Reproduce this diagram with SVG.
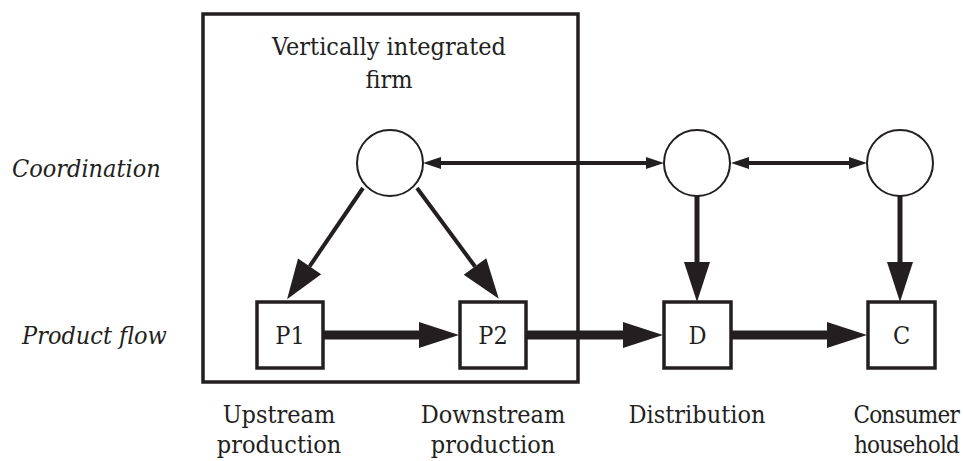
<svg xmlns="http://www.w3.org/2000/svg" width="963" height="461" viewBox="0 0 963 461">
  <style>
    .t { font-family: "DejaVu Serif", serif; font-stretch: condensed; font-size: 25px; fill: #231f20; }
    .side { font-style: italic; }
    .mid { text-anchor: middle; }
    .edge { text-anchor: end; font-size: 24px; letter-spacing: -0.8px; }
    .circ { fill: #fff; stroke: #231f20; stroke-width: 2; }
    .box { fill: #fff; stroke: #231f20; stroke-width: 3.5; }
    .firm { fill: none; stroke: #231f20; stroke-width: 3.5; }
    .flow { stroke: #231f20; stroke-width: 9; fill: none; }
    .ctrl { stroke: #231f20; stroke-width: 5; fill: none; }
    .link { stroke: #231f20; stroke-width: 4; fill: none; }
  </style>
  <defs>
    <marker id="headBig" markerUnits="userSpaceOnUse" markerWidth="42" markerHeight="28" refX="0" refY="13" orient="auto" overflow="visible">
      <path d="M0,0 L40,13 L0,26 Z" fill="#231f20"/>
    </marker>
    <marker id="headMid" markerUnits="userSpaceOnUse" markerWidth="42" markerHeight="30" refX="0" refY="14" orient="auto" overflow="visible">
      <path d="M0,0 L40,14 L0,28 Z" fill="#231f20"/>
    </marker>
    <marker id="headSmall" markerUnits="userSpaceOnUse" markerWidth="20" markerHeight="14" refX="0" refY="6" orient="auto" overflow="visible">
      <path d="M0,0 L18,6 L0,12 Z" fill="#231f20"/>
    </marker>
    <marker id="headSmallStart" markerUnits="userSpaceOnUse" markerWidth="20" markerHeight="14" refX="0" refY="6" orient="auto-start-reverse" overflow="visible">
      <path d="M0,0 L18,6 L0,12 Z" fill="#231f20"/>
    </marker>
  </defs>

  <!-- row labels -->
  <text class="t side" x="12" y="177">Coordination</text>
  <text class="t side" x="22" y="344">Product flow</text>

  <!-- firm boundary -->
  <g id="firm">
    <rect class="firm" x="203" y="14" width="375" height="368"/>
    <text class="t mid" x="389" y="55">Vertically integrated</text>
    <text class="t mid" x="389" y="88">firm</text>
  </g>

  <!-- connectors -->
  <g id="connectors">
    <line class="link" x1="441" y1="163" x2="646" y2="163" marker-start="url(#headSmallStart)" marker-end="url(#headSmall)"/>
    <line class="link" x1="749" y1="163" x2="849" y2="163" marker-start="url(#headSmallStart)" marker-end="url(#headSmall)"/>
    <line class="link" x1="363" y1="188" x2="309.6" y2="266.3" marker-end="url(#headMid)"/>
    <line class="link" x1="417" y1="188" x2="475" y2="266.5" marker-end="url(#headMid)"/>
    <line class="ctrl" x1="697" y1="196" x2="697" y2="262" marker-end="url(#headBig)"/>
    <line class="ctrl" x1="900" y1="196" x2="900" y2="262" marker-end="url(#headBig)"/>
    <line class="flow" x1="324" y1="335" x2="419" y2="335" marker-end="url(#headBig)"/>
    <line class="flow" x1="527" y1="335" x2="623" y2="335" marker-end="url(#headBig)"/>
    <line class="flow" x1="732" y1="335" x2="827" y2="335" marker-end="url(#headBig)"/>
  </g>

  <!-- coordination nodes -->
  <g id="coord-firm"><circle class="circ" cx="390" cy="163" r="33"/></g>
  <g id="coord-dist"><circle class="circ" cx="697" cy="163" r="33"/></g>
  <g id="coord-cons"><circle class="circ" cx="900" cy="163" r="33"/></g>

  <!-- product flow nodes -->
  <g id="p1">
    <rect class="box" x="257" y="302" width="66" height="66"/>
    <text class="t mid" x="290" y="344">P1</text>
    <text class="t mid" x="279" y="423">Upstream</text>
    <text class="t mid" x="279" y="453">production</text>
  </g>
  <g id="p2">
    <rect class="box" x="460" y="302" width="66" height="66"/>
    <text class="t mid" x="493" y="344">P2</text>
    <text class="t mid" x="493" y="423">Downstream</text>
    <text class="t mid" x="493" y="453">production</text>
  </g>
  <g id="d">
    <rect class="box" x="664" y="302" width="67" height="66"/>
    <text class="t mid" x="697.5" y="344">D</text>
    <text class="t mid" x="697" y="423">Distribution</text>
  </g>
  <g id="c">
    <rect class="box" x="868" y="302" width="67" height="66"/>
    <text class="t mid" x="901.5" y="344">C</text>
    <text class="t edge" x="959" y="423">Consumer</text>
    <text class="t edge" x="959" y="453">household</text>
  </g>
</svg>
